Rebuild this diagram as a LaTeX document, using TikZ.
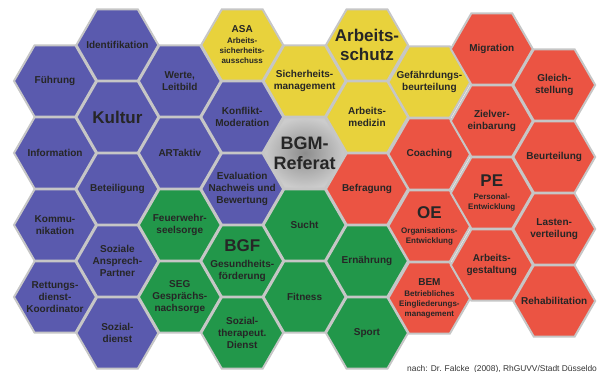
\documentclass[tikz,border=0pt]{standalone}
\usepackage{fontspec}
\setmainfont{Liberation Sans}
\usetikzlibrary{shapes.geometric}

\definecolor{kulturblau}{HTML}{5A5AAE}
\definecolor{schutzgelb}{HTML}{E8D23C}
\definecolor{bgfgruen}{HTML}{22974A}
\definecolor{perot}{HTML}{EB5443}

\newcommand{\gross}{\fontsize{17}{19}\selectfont}
\newcommand{\klein}{\fontsize{8}{10}\selectfont}

\tikzset{
  wabe/.style={regular polygon, regular polygon sides=6, minimum size=82pt,
    inner sep=0pt, draw=gray!45, line width=2pt},
  beschr/.style={align=center, inner sep=0pt, text=black!85,
    font=\bfseries\fontsize{10}{12}\selectfont},
}

% one honeycomb cell: [text style]{fill}{name}{centre}{label}
\newcommand{\wabe}[5][]{%
  \node[wabe, fill=#2] (#3) at (#4) {};
  \node[beschr, #1] (#3-t) at (#3) {#5};}

\begin{document}
\begin{tikzpicture}[x=1pt, y=-1pt]
  \useasboundingbox (0,0) rectangle (597,372);
  \clip (0,0) rectangle (597,372);

  % Kultur (blue)
  \wabe{kulturblau}{fuehrung}{55,81}{F\"uhrung}
  \wabe{kulturblau}{information}{55,153}{Information}
  \wabe{kulturblau}{kommunikation}{55,225}{Kommu-\\nikation}
  \wabe{kulturblau}{rettung}{55,297}{Rettungs-\\dienst-\\Koordinator}
  \wabe{kulturblau}{identifikation}{117.4,45}{Identifikation}
  \wabe[font=\bfseries\gross]{kulturblau}{kultur}{117.4,117}{Kultur}
  \wabe{kulturblau}{beteiligung}{117.4,189}{Beteiligung}
  \wabe{kulturblau}{ansprech}{117.4,261}{Soziale\\Ansprech-\\Partner}
  \wabe{kulturblau}{sozialdienst}{117.4,333}{Sozial-\\dienst}
  \wabe{kulturblau}{werte}{179.8,81}{Werte,\\Leitbild}
  \wabe{kulturblau}{artaktiv}{179.8,153}{ARTaktiv}
  \wabe{kulturblau}{konflikt}{242.2,117}{Konflikt-\\Moderation}
  \wabe{kulturblau}{evaluation}{242.2,189}{Evaluation\\Nachweis und\\Bewertung}

  % Arbeitsschutz (yellow)
  \wabe{schutzgelb}{asa}{242.2,45}{ASA\\[-1pt]{\klein Arbeits-}\\[-2pt]{\klein sicherheits-}\\[-2pt]{\klein ausschuss}}
  \wabe{schutzgelb}{sicherheit}{304.6,81}{Sicherheits-\\management}
  \wabe[font=\bfseries\fontsize{17}{19}\selectfont]{schutzgelb}{arbeitsschutz}{367,45}{Arbeits-\\schutz}
  \wabe{schutzgelb}{arbeitsmedizin}{367,117}{Arbeits-\\medizin}
  \wabe{schutzgelb}{gefaehrdung}{429.4,82}{Gef\"ahrdungs-\\beurteilung}

  % BGM centre
  \node[wabe, shading=radial, inner color=black!45, outer color=black!20] (bgm) at (304.6,153) {};
  \node[beschr, font=\bfseries\fontsize{18}{20}\selectfont] (bgm-t) at (bgm) {BGM-\\Referat};

  % BGF (green)
  \wabe{bgfgruen}{feuerwehr}{179.8,225}{Feuerwehr-\\seelsorge}
  \wabe{bgfgruen}{seg}{179.8,297}{SEG\\Gespr\"achs-\\nachsorge}
  \wabe{bgfgruen}{bgf}{242.2,261}{{\gross BGF}\\[4pt]Gesundheits-\\f\"orderung}
  \wabe{bgfgruen}{sozialtherapie}{242.2,333}{Sozial-\\therapeut.\\Dienst}
  \wabe{bgfgruen}{sucht}{304.6,225}{Sucht}
  \wabe{bgfgruen}{fitness}{304.6,297}{Fitness}
  \wabe{bgfgruen}{ernaehrung}{367,261}{Ern\"ahrung}
  \wabe{bgfgruen}{sport}{367,333}{Sport}

  % OE / PE (red)
  \wabe{perot}{befragung}{367,189}{Befragung}
  \wabe{perot}{coaching}{429.4,154}{Coaching}
  \wabe{perot}{oe}{429.4,226}{{\gross OE}\\[3pt]{\klein Organisations-}\\[-2pt]{\klein Entwicklung}}
  \wabe{perot}{bem}{429.4,298}{BEM\\[-1pt]{\klein Betriebliches}\\[-2pt]{\klein Eingliederungs-}\\[-2pt]{\klein management}}
  \wabe{perot}{migration}{491.8,49}{Migration}
  \wabe{perot}{zielvereinbarung}{491.8,121}{Zielver-\\einbarung}
  \wabe{perot}{pe}{491.8,193}{{\gross PE}\\[1pt]{\klein Personal-}\\[-2pt]{\klein Entwicklung}}
  \wabe{perot}{arbeitsgestaltung}{491.8,265}{Arbeits-\\gestaltung}
  \wabe{perot}{gleichstellung}{554.2,85}{Gleich-\\stellung}
  \wabe{perot}{beurteilung}{554.2,157}{Beurteilung}
  \wabe{perot}{lasten}{554.2,229}{Lasten-\\verteilung}
  \wabe{perot}{reha}{554.2,301}{Rehabilitation}

  % source line
  \node[anchor=base west, inner sep=0pt, text=black!80, font=\fontsize{8.4}{10}\selectfont]
    (quelle) at (407,371) {nach: Dr. Falcke\ \ (2008), RhGUVV/Stadt D\"usseldorf};
\end{tikzpicture}
\end{document}
